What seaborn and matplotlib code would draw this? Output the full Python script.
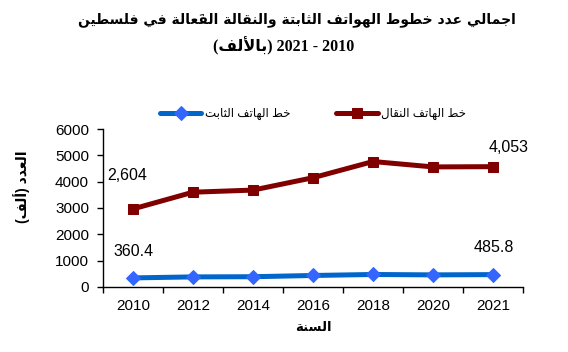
import numpy as np
import pandas as pd
import matplotlib
matplotlib.use("Agg")
import matplotlib.pyplot as plt
import seaborn as sns

years = ["2010", "2012", "2014", "2016", "2018", "2020", "2021"]
mobile = [2965, 3600, 3680, 4150, 4765, 4560, 4570]
fixed = [345, 383, 390, 437, 475, 460, 470]
mobile_labels = ["2,604", "", "", "", "", "", "4,053"]
fixed_labels = ["360.4", "", "", "", "", "", "485.8"]

title_1 = "اجمالي عدد خطوط الهواتف الثابتة والنقالة الفعَالة في فلسطين"
title_unit = "بالألف"
ylabel = "العدد (ألف)"
xlabel = "السنة"
name_fixed = "خط الهاتف الثابت"
name_mobile = "خط الهاتف النقال"

# simple arabic shaping (matplotlib does no joining / rtl)
FORMS = {
    'ا': ('\uFE8D', '\uFE8E', None, None), 'أ': ('\uFE83', '\uFE84', None, None),
    'ب': ('\uFE8F', '\uFE90', '\uFE91', '\uFE92'), 'ة': ('\uFE93', '\uFE94', None, None),
    'ت': ('\uFE95', '\uFE96', '\uFE97', '\uFE98'), 'ث': ('\uFE99', '\uFE9A', '\uFE9B', '\uFE9C'),
    'ج': ('\uFE9D', '\uFE9E', '\uFE9F', '\uFEA0'), 'خ': ('\uFEA5', '\uFEA6', '\uFEA7', '\uFEA8'),
    'د': ('\uFEA9', '\uFEAA', None, None), 'س': ('\uFEB1', '\uFEB2', '\uFEB3', '\uFEB4'),
    'ط': ('\uFEC1', '\uFEC2', '\uFEC3', '\uFEC4'), 'ع': ('\uFEC9', '\uFECA', '\uFECB', '\uFECC'),
    'ف': ('\uFED1', '\uFED2', '\uFED3', '\uFED4'), 'ق': ('\uFED5', '\uFED6', '\uFED7', '\uFED8'),
    'ل': ('\uFEDD', '\uFEDE', '\uFEDF', '\uFEE0'), 'م': ('\uFEE1', '\uFEE2', '\uFEE3', '\uFEE4'),
    'ن': ('\uFEE5', '\uFEE6', '\uFEE7', '\uFEE8'), 'ه': ('\uFEE9', '\uFEEA', '\uFEEB', '\uFEEC'),
    'و': ('\uFEED', '\uFEEE', None, None), 'ي': ('\uFEF1', '\uFEF2', '\uFEF3', '\uFEF4'),
}
LAMALEF = {'ا': ('\uFEFB', '\uFEFC'), 'أ': ('\uFEF7', '\uFEF8')}
MARKS = {'\u064E', '\u0651'}


def ar(text):
    chars = [c for c in text]
    letters = [i for i, c in enumerate(chars) if c not in MARKS]
    clusters = []
    skip = set()
    for n, i in enumerate(letters):
        if i in skip:
            continue
        c = chars[i]
        marks = ''
        j = i + 1
        while j < len(chars) and chars[j] in MARKS:
            marks += chars[j]
            j += 1
        if c not in FORMS:
            clusters.append({'(': ')', ')': '('}.get(c, c) + marks)
            continue
        prev = chars[letters[n - 1]] if n > 0 else None
        joins_prev = prev in FORMS and FORMS[prev][2] is not None
        nxt = chars[letters[n + 1]] if n + 1 < len(letters) else None
        if c == 'ل' and nxt in LAMALEF:
            clusters.append(LAMALEF[nxt][1 if joins_prev else 0])
            skip.add(letters[n + 1])
            continue
        joins_next = FORMS[c][2] is not None and nxt in FORMS
        f = FORMS[c]
        if joins_prev and joins_next:
            g = f[3]
        elif joins_prev:
            g = f[1]
        elif joins_next:
            g = f[2]
        else:
            g = f[0]
        clusters.append(g + marks)
    return ''.join(clusters[::-1])


sns.set_theme(style="ticks")
plt.rcParams['font.family'] = ['Liberation Sans', 'DejaVu Sans']
plt.rcParams['text.color'] = 'black'
plt.rcParams['axes.labelcolor'] = 'black'
plt.rcParams['xtick.color'] = 'black'
plt.rcParams['ytick.color'] = 'black'

pos = np.arange(len(years))
fig = plt.figure(figsize=(5.68, 3.52), dpi=100)
ax = fig.add_axes([0.1813, 0.1847, 0.7395, 0.4488])

sns.lineplot(x=pos, y=fixed, ax=ax, color="#0066CC", linewidth=3.6, marker="D", markersize=7.6,
             markerfacecolor="#3366FF", markeredgecolor="#3366FF", label=ar(name_fixed))
sns.lineplot(x=pos, y=mobile, ax=ax, color="#800000", linewidth=3.6, marker="s", markersize=7.5,
             markerfacecolor="#800000", markeredgecolor="#800000", label=ar(name_mobile))

for i, t in enumerate(mobile_labels):
    if t:
        off = (-4, 24) if i == 0 else (11, 14)
        ax.annotate(t, (pos[i], mobile[i]), xytext=off, textcoords="offset points",
                    ha="center", va="center", fontsize=11.5, color="black")
for i, t in enumerate(fixed_labels):
    if t:
        ax.annotate(t, (pos[i], fixed[i]), xytext=(0.7, 19.2), textcoords="offset points",
                    ha="center", va="center", fontsize=11.5, color="black")

ax.set_xlim(-0.5, len(years) - 0.5)
ax.set_ylim(0, 6000)
ax.set_yticks(np.arange(0, 6001, 1000))
ax.set_xticks(np.arange(-0.5, len(years), 1.0))
ax.set_xticklabels([])
ax.set_xticks(pos, minor=True)
ax.set_xticklabels(years, minor=True)
ax.tick_params(axis="x", which="major", length=4, width=1, color="black", direction="out")
ax.tick_params(axis="x", which="minor", length=0, pad=9, labelsize=11, labelcolor="black")
ax.tick_params(axis="y", length=4, width=1, color="black", direction="out", pad=6, labelsize=11,
               labelcolor="black")
sns.despine(ax=ax)
for s in ["left", "bottom"]:
    ax.spines[s].set_color("black")
    ax.spines[s].set_linewidth(1)
ax.set_xlabel(ar(xlabel), fontsize=9.5, fontweight="bold", labelpad=6)
ax.set_ylabel("")

fig.text(22 / 568, 1 - 187 / 352, ar(ylabel), rotation=90, ha="center", va="center",
         fontsize=10, fontweight="bold")
fig.text(297 / 568, 1 - 20 / 352, ar(title_1), ha="center", va="center", fontsize=10,
         fontweight="bold", family=["DejaVu Sans"])
fig.text(0.5, 1 - 46 / 352, "(" + ar(title_unit) + ") 2021 - 2010", ha="center", va="center",
         fontsize=11.5, fontweight="bold", family=["Liberation Serif", "DejaVu Sans"])

ax.legend(loc="center", bbox_to_anchor=(0.5, 1.095), ncol=2, frameon=False, fontsize=8.5,
          handlelength=3.5, columnspacing=3.9, handletextpad=0.3)

fig.savefig("out.png", dpi=100)
